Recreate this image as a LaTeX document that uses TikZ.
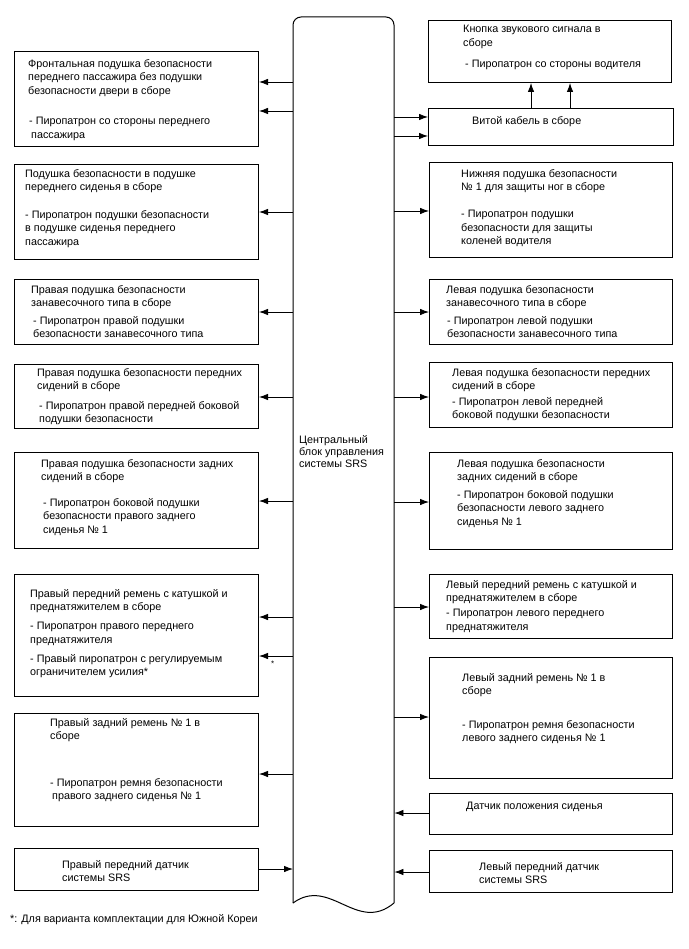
\documentclass[tikz,border=0pt]{standalone}
\usepackage{fontspec}
\setmainfont{Liberation Sans}
\usetikzlibrary{arrows.meta}
\tikzset{
  box/.style={draw, line width=1pt, inner sep=0pt, anchor=north west},
  txt/.style={anchor=north west, inner sep=0pt, align=left, font=\fontsize{10.8}{13.5}\selectfont},
  arr/.style={line width=0.8pt, -{Latex[length=9pt,width=6.5pt]}},
}
\newcommand\bx[5]{\node[box, minimum width={(#4-#2)*1pt}, minimum height={(#5-#3)*1pt}] (#1) at (#2,#3) {};}
\newcommand\tx[4]{\node[txt] (#1) at (#2,#3-4) {#4};}
\newcommand\toL[2]{\draw[arr] (C.west |- 0,#2) -- (#1.east |- 0,#2);}
\newcommand\fromL[2]{\draw[arr] (#1.east |- 0,#2) -- (C.west |- 0,#2);}
\newcommand\toR[2]{\draw[arr] (C.east |- 0,#2) -- (#1.west |- 0,#2);}
\newcommand\fromR[2]{\draw[arr] (#1.west |- 0,#2) -- (C.east |- 0,#2);}
\begin{document}
\begin{tikzpicture}[x=1pt,y=-1pt]
\useasboundingbox (0,0) rectangle (688,949);
% central column
\node[inner sep=0pt, minimum width=101pt, minimum height=886pt, anchor=north west] (C) at (293,17) {};
\draw[line width=1pt, rounded corners=8pt] (293,903) -- (293,17) -- (394,17) -- (394,903);
\draw[line width=1pt] (293,903) .. controls (330,876) and (357,934) .. (394,903);
\node[txt, font=\fontsize{10.8}{12}\selectfont] (Ct) at (299,435) {Центральный\\блок управления\\системы SRS};
% left boxes
\bx{L1}{14}{51}{258}{146}
\bx{L2}{14}{164}{258}{259}
\bx{L3}{14}{279}{258}{344}
\bx{L4}{14}{364}{258}{428}
\bx{L5}{14}{452}{258}{548}
\bx{L6}{14}{574}{258}{696}
\bx{L7}{14}{713}{258}{826}
\bx{L8}{14}{848}{258}{890}
% right boxes
\bx{R1}{428}{20}{671}{82}
\bx{R2}{428}{108}{673}{145}
\bx{R3}{429}{162}{672}{257}
\bx{R4}{429}{279}{672}{344}
\bx{R5}{429}{362}{672}{427}
\bx{R6}{429}{452}{672}{549}
\bx{R7}{429}{574}{672}{638}
\bx{R8}{429}{657}{672}{778}
\bx{R9}{429}{793}{672}{834}
\bx{R10}{429}{850}{672}{892}
% left texts
\tx{t1a}{28}{63}{Фронтальная подушка безопасности\\переднего пассажира без подушки\\безопасности двери в сборе}
\tx{t1b}{29}{121}{- Пиропатрон со стороны переднего\\\hspace*{2pt}пассажира}
\tx{t2a}{25}{173}{Подушка безопасности в подушке\\переднего сиденья в сборе}
\tx{t2b}{25}{214}{- Пиропатрон подушки безопасности\\в подушке сиденья переднего\\пассажира}
\tx{t3a}{31}{289}{Правая подушка безопасности\\занавесочного типа в сборе}
\tx{t3b}{33}{320}{- Пиропатрон правой подушки\\безопасности занавесочного типа}
\tx{t4a}{37}{372}{Правая подушка безопасности передних\\сидений в сборе}
\tx{t4b}{39}{405}{- Пиропатрон правой передней боковой\\подушки безопасности}
\tx{t5a}{41}{463}{Правая подушка безопасности задних\\сидений в сборе}
\tx{t5b}{43}{502}{- Пиропатрон боковой подушки\\безопасности правого заднего\\сиденья № 1}
\tx{t6a}{30}{593}{Правый передний ремень с катушкой и\\преднатяжителем в сборе}
\tx{t6b}{30}{626}{- Пиропатрон правого переднего\\преднатяжителя}
\tx{t6c}{30}{658}{- Правый пиропатрон с регулируемым\\ограничителем усилия*}
\tx{t7a}{50}{722}{Правый задний ремень № 1 в\\сборе}
\tx{t7b}{50}{782}{- Пиропатрон ремня безопасности\\\hspace*{2pt}правого заднего сиденья № 1}
\tx{t8}{62}{864}{Правый передний датчик\\системы SRS}
\tx{fn}{10}{918}{*: Для варианта комплектации для Южной Кореи}
\node[txt, font=\fontsize{8}{9}\selectfont] (ast) at (271,661) {*};
% right texts
\tx{r1a}{463}{29}{Кнопка звукового сигнала в\\сборе}
\tx{r1b}{465}{64}{- Пиропатрон со стороны водителя}
\tx{r2}{472}{120}{Витой кабель в сборе}
\tx{r3a}{461}{173}{Нижняя подушка безопасности\\№ 1 для защиты ног в сборе}
\tx{r3b}{461}{214}{- Пиропатрон подушки\\безопасности для защиты\\коленей водителя}
\tx{r4a}{446}{289}{Левая подушка безопасности\\занавесочного типа в сборе}
\tx{r4b}{447}{320}{- Пиропатрон левой подушки\\безопасности занавесочного типа}
\tx{r5a}{452}{372}{Левая подушка безопасности передних\\сидений в сборе}
\tx{r5b}{452}{401}{- Пиропатрон левой передней\\боковой подушки безопасности}
\tx{r6a}{457}{463}{Левая подушка безопасности\\задних сидений в сборе}
\tx{r6b}{457}{494}{- Пиропатрон боковой подушки\\безопасности левого заднего\\сиденья № 1}
\tx{r7a}{446}{584}{Левый передний ремень с катушкой и\\преднатяжителем в сборе}
\tx{r7b}{446}{613}{- Пиропатрон левого переднего\\преднатяжителя}
\tx{r8a}{462}{677}{Левый задний ремень № 1 в\\сборе}
\tx{r8b}{462}{724}{- Пиропатрон ремня безопасности\\левого заднего сиденья № 1}
\tx{r9}{466}{806}{Датчик положения сиденья}
\tx{r10}{479}{866}{Левый передний датчик\\системы SRS}
% left arrows
\toL{L1}{82}
\toL{L1}{111}
\toL{L2}{212}
\toL{L3}{312}
\toL{L4}{397}
\toL{L5}{501}
\toL{L6}{617}
\toL{L6}{656}
\toL{L7}{774}
\fromL{L8}{869}
% right arrows
\toR{R2}{117}
\toR{R2}{136}
\toR{R3}{211}
\toR{R4}{312}
\toR{R5}{397}
\toR{R6}{502}
\toR{R7}{607}
\toR{R8}{717}
\fromR{R9}{813}
\fromR{R10}{872}
% R2 to R1
\draw[arr] (R2.north -| 531,0) -- (R1.south -| 531,0);
\draw[arr] (R2.north -| 570,0) -- (R1.south -| 570,0);
\end{tikzpicture}
\end{document}
